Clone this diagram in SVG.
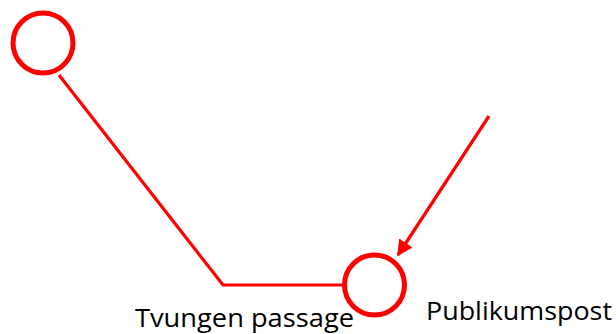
<svg xmlns="http://www.w3.org/2000/svg" width="616" height="334" viewBox="0 0 616 334">
<defs>
<style>
.node{fill:none;stroke:#ff0000;stroke-width:5}
.conn{fill:none;stroke:#ff0000;stroke-width:3.2}
.lbl{font-family:"Open Sans","Liberation Sans",sans-serif;font-size:26px;fill:#000}
</style>
<marker id="arr" viewBox="0 0 10 10" refX="9" refY="5" markerWidth="5" markerHeight="5" orient="auto" markerUnits="strokeWidth">
<path d="M0,0 L10,5 L0,10 z" fill="#ff0000"/>
</marker>
</defs>
<g id="connectors">
<polyline class="conn" points="59,75 223,285 345,285"/>
<line class="conn" x1="489" y1="116" x2="398" y2="255" marker-end="url(#arr)"/>
</g>
<g id="node1"><circle class="node" cx="43" cy="43" r="30"/></g>
<g id="node2"><circle class="node" cx="374.5" cy="285" r="30"/></g>
<g id="label1"><text class="lbl" x="135" y="327" textLength="219" lengthAdjust="spacingAndGlyphs">Tvungen passage</text></g>
<g id="label2"><text class="lbl" x="426" y="320" textLength="186" lengthAdjust="spacingAndGlyphs">Publikumspost</text></g>
</svg>
